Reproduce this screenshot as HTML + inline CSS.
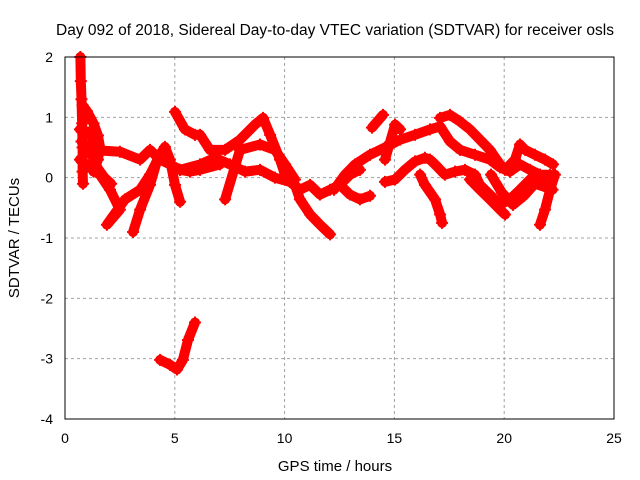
<!DOCTYPE html>
<html><head><meta charset="utf-8"><style>
html,body{margin:0;padding:0;background:#fff;}
svg{display:block;font-family:"Liberation Sans",sans-serif;}
</style></head><body>
<svg id="chart" width="640" height="480">
<text x="335" y="35" font-size="15.5" text-anchor="middle">Day 092 of 2018, Sidereal Day-to-day VTEC variation (SDTVAR) for receiver osls</text>
<text x="335" y="471" font-size="15" text-anchor="middle">GPS time / hours</text>
<text transform="translate(19,238) rotate(-90)" font-size="15" text-anchor="middle">SDTVAR / TECUs</text>
<g id="grid"></g>
<g id="ticks"></g>
<g id="marks"></g>
<rect x="65" y="57" width="549" height="362" fill="none" stroke="#000" stroke-width="1"/>
</svg>
<script>
const xTicks=[0,5,10,15,20,25];
const yTicks=[2,1,0,-1,-2,-3,-4];
const trackA=[[0.7,2.0],[0.72,1.6],[0.75,1.3],[0.78,0.9],[0.8,0.5],[0.8,0.1],[0.82,-0.1]];
const trackB=[[0.68,0.8],[1.1,0.75],[1.59,0.45],[2.5,0.43],[3.42,0.3],[3.87,0.46],[4.33,0.3],[4.78,0.22],[5.24,0.13],[5.69,0.1],[6.15,0.13],[7.06,0.22]];
const trackC=[[0.68,0.3],[1.59,0.05],[2.05,-0.2],[2.5,-0.53],[1.91,-0.78],[2.73,-0.36],[3.42,-0.2],[3.87,0.05],[4.33,0.38]];
const trackD=[[3.1,-0.9],[3.42,-0.53],[3.87,-0.12],[4.23,0.33],[4.55,0.51],[4.78,0.3],[5.01,-0.12],[5.24,-0.4]];
const trackE=[[5.01,1.09],[5.46,0.8],[5.92,0.71],[6.15,0.71],[6.6,0.46],[7.29,0.46],[7.97,0.63],[8.65,0.88],[9.02,0.99],[9.34,0.71],[9.79,0.3],[10.02,0.05],[10.47,-0.12],[10.7,-0.36],[11.16,-0.61],[11.61,-0.78],[12.07,-0.94]];
const trackF=[[5.24,0.13],[6.15,0.22],[6.83,0.33],[7.51,0.22],[8.2,0.1],[8.88,0.13],[9.56,0],[10.25,-0.07],[10.7,-0.2],[11.16,-0.12],[11.61,-0.28],[12.07,-0.2],[12.52,-0.12],[12.98,0.05],[13.43,0.13]];
const trackG=[[7.29,-0.36],[7.97,0.46],[8.88,0.55],[9.56,0.46],[10.02,0.22],[10.47,-0.03]];
const trackH=[[12.25,-0.2],[12.75,0.05],[13.21,0.22],[13.89,0.38],[14.57,0.5],[15.26,0.63],[15.94,0.71],[16.62,0.8],[17.08,0.85],[17.53,0.6],[17.99,0.46],[18.67,0.38],[19.35,0.3],[19.81,0.17],[20.26,0.1],[20.72,0.22],[21.17,0.13],[21.63,0.05],[22.09,0.05]];
const trackI=[[13.98,0.83],[14.48,1.04]];
const trackJ=[[14.57,0.3],[15.03,0.88],[15.26,0.8]];
const trackK=[[17.08,0.99],[17.53,1.04],[17.99,0.93],[18.44,0.8],[18.9,0.63],[19.35,0.46],[19.81,0.22],[20.04,0.13],[20.49,0.3],[20.72,0.55],[20.95,0.46],[21.4,0.38],[21.86,0.3],[22.22,0.22]];
const trackL=[[14.57,-0.07],[15.03,-0.03],[15.48,0.13],[15.94,0.27],[16.39,0.33],[16.62,0.3],[16.85,0.22],[17.3,0.05],[17.76,0.1],[18.21,0.13],[18.67,0.05],[18.9,-0.12],[19.35,-0.28],[19.81,-0.45],[20.26,-0.36],[20.72,-0.2],[21.4,0.05],[22.09,-0.12]];
const trackM=[[16.17,0.05],[16.39,-0.12],[16.85,-0.36],[17.08,-0.61],[17.17,-0.75]];
const trackN=[[18.44,-0.03],[18.9,-0.2],[19.35,-0.36],[19.81,-0.53],[20.04,-0.61]];
const trackO=[[21.63,-0.78],[21.86,-0.53],[22.09,-0.2],[22.31,0.05]];
const trackP=[[12.52,-0.12],[12.98,-0.28],[13.43,-0.36],[13.89,-0.3]];
const trackQ=[[4.33,-3.02],[4.78,-3.1],[5.1,-3.18],[5.37,-3.02],[5.6,-2.69],[5.92,-2.4]];
const trackR=[[0.8,1.2],[1.0,1.1],[1.3,0.9],[1.5,0.7],[1.6,0.5],[1.5,0.3],[1.3,0.1]];
const trackS=[[0.75,0.6],[1.1,0.5],[1.4,0.2],[1.8,0.0],[2.1,-0.1]];
const trackT=[[19.4,0.05],[19.9,-0.25],[20.4,-0.45],[20.9,-0.3],[21.4,-0.1],[22.2,-0.2]];
const tracks=[trackA,trackB,trackC,trackD,trackE,trackF,trackG,trackH,trackI,trackJ,trackK,trackL,trackM,trackN,trackO,trackP,trackQ,trackR,trackS,trackT];

const NS='http://www.w3.org/2000/svg';
const L=65,R=614,T=57,B=419;
function sx(h){return L+(h-0)/(25-0)*(R-L);}
function sy(v){return B-(v-(-4))/(2-(-4))*(B-T);}
const grid=document.getElementById('grid'),ticks=document.getElementById('ticks'),marks=document.getElementById('marks');
function mk(tag,attrs,parent){const e=document.createElementNS(NS,tag);for(const k in attrs)e.setAttribute(k,attrs[k]);parent.appendChild(e);return e;}
xTicks.forEach(t=>{
  const x=sx(t);
  if(t>0&&t<25){const g=mk('line',{x1:x,x2:x,y1:T,y2:B,stroke:'#a0a0a0','stroke-dasharray':'3,3'},grid);
  
  }
  const tl=mk('text',{x:x,y:B+24,'font-size':'14','text-anchor':'middle'},ticks);
  tl.textContent=t;
  
  
});
yTicks.forEach(t=>{
  const y=sy(t);
  if(t<2&&t>-4){const g=mk('line',{x1:L,x2:R,y1:y,y2:y,stroke:'#a0a0a0','stroke-dasharray':'3,3'},grid);
  
  }
  const tl=mk('text',{x:L-12,y:y+5,'font-size':'14','text-anchor':'end'},ticks);
  tl.textContent=t;
  
  
});
tracks.forEach((tr,i)=>{
  const pts=tr.map(p=>sx(p[0]).toFixed(1)+','+sy(p[1]).toFixed(1)).join(' ');
  const pl=mk('polyline',{points:pts,fill:'none',stroke:'#ff0000','stroke-width':'10','stroke-linejoin':'round','stroke-linecap':'round'},marks);
  
  
  tr.forEach(p=>{
    const x=sx(p[0]),y=sy(p[1]);
    const m=mk('path',{d:`M${x-6},${y}H${x+6}M${x},${y-6}V${y+6}`,stroke:'#ff0000','stroke-width':'2'},marks);
    
    
  });
});
</script>
</body></html>
